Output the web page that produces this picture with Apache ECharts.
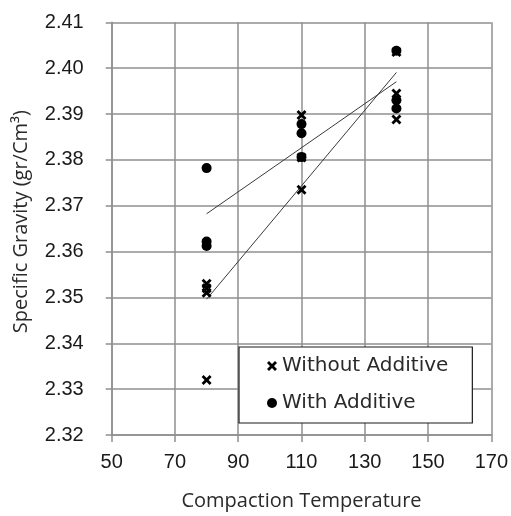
<!DOCTYPE html>
<html>
<head>
<meta charset="utf-8">
<script src="https://cdn.jsdelivr.net/npm/echarts@6/dist/echarts.min.js"></script>
<style>
html,body{margin:0;padding:0;background:#fff;}
#chart{width:511px;height:516px;}
</style>
</head>
<body>
<div id="chart"></div>
<script>
// Data
const seriesNames = ['Without Additive', 'With Additive'];
const withoutTemp = [80, 80, 80, 80, 110, 110, 110, 140, 140, 140];
const withoutSG   = [2.353, 2.352, 2.351, 2.332, 2.3898, 2.3805, 2.3735, 2.4035, 2.3945, 2.3888];
const withTemp    = [80, 80, 80, 110, 110, 110, 140, 140, 140];
const withSG      = [2.3782, 2.3622, 2.3612, 2.3878, 2.3858, 2.3806, 2.4038, 2.3930, 2.3912];
const xTicks = [50, 70, 90, 110, 130, 150, 170];
const yTicks = [2.32, 2.33, 2.34, 2.35, 2.36, 2.37, 2.38, 2.39, 2.40, 2.41];

function pairs(xs, ys) { return xs.map((x, i) => [x, ys[i]]); }
function fit(xs, ys) {
  const n = xs.length;
  const mx = xs.reduce((a, b) => a + b, 0) / n;
  const my = ys.reduce((a, b) => a + b, 0) / n;
  let sxy = 0, sxx = 0;
  for (let i = 0; i < n; i++) { sxy += (xs[i] - mx) * (ys[i] - my); sxx += (xs[i] - mx) ** 2; }
  const b = sxy / sxx, a = my - b * mx;
  const x0 = Math.min(...xs), x1 = Math.max(...xs);
  return [[x0, a + b * x0], [x1, a + b * x1]];
}

const crossPath = 'path://M0,2L2,0L5,3L8,0L10,2L7,5L10,8L8,10L5,7L2,10L0,8L3,5Z';
const gridColor = '#8f8f8f';

const chart = echarts.init(document.getElementById('chart'), null, {renderer: 'canvas'});
chart.setOption({
  animation: false,
  backgroundColor: '#fff',
  grid: {left: 111.7, right: 19, top: 22.3, bottom: 78, containLabel: false},
  xAxis: {
    type: 'value', min: xTicks[0], max: xTicks[xTicks.length - 1], interval: 20,
    name: 'Compaction Temperature', nameLocation: 'middle', nameGap: 56,
    nameTextStyle: {fontFamily: 'Open Sans', fontSize: 20, color: '#2a2a2a'},
    axisLine: {show: true, lineStyle: {color: gridColor, width: 1.5}},
    axisTick: {show: true, inside: false, length: 7, lineStyle: {color: gridColor, width: 1.5}},
    axisLabel: {margin: 17, fontFamily: 'Liberation Sans', fontSize: 20, color: '#1a1a1a'},
    splitLine: {show: true, lineStyle: {color: gridColor, width: 1.5}}
  },
  yAxis: {
    type: 'value', min: yTicks[0], max: yTicks[yTicks.length - 1], interval: 0.01,
    name: 'Specific Gravity (gr/Cm³)', nameLocation: 'middle', nameGap: 80,
    nameTextStyle: {fontFamily: 'Open Sans', fontSize: 20, color: '#2a2a2a', padding: [0, 0, 0, 14]},
    axisLine: {show: true, lineStyle: {color: gridColor, width: 1.5}},
    axisTick: {show: true, inside: false, length: 6, lineStyle: {color: gridColor, width: 1.5}},
    axisLabel: {margin: 28, fontFamily: 'Liberation Sans', fontSize: 20, color: '#1a1a1a',
      formatter: v => v.toFixed(2)},
    splitLine: {show: true, lineStyle: {color: gridColor, width: 1.5}}
  },
  legend: {
    data: seriesNames,
    orient: 'vertical', left: 239, top: 347,
    padding: [8, 24, 9, 28], itemGap: 15,
    itemWidth: 10, itemHeight: 10,
    backgroundColor: '#fff', borderColor: '#1a1a1a', borderWidth: 1.2,
    textStyle: {fontFamily: 'DejaVu Sans', fontSize: 20, color: '#2a2a2a', lineHeight: 22},
    selectedMode: false
  },
  series: [
    {type: 'line', data: fit(withoutTemp, withoutSG), symbol: 'none', silent: true,
     lineStyle: {color: '#3a3a3a', width: 1}, z: 1},
    {type: 'line', data: fit(withTemp, withSG), symbol: 'none', silent: true,
     lineStyle: {color: '#3a3a3a', width: 1}, z: 1},
    {name: seriesNames[0], type: 'scatter', data: pairs(withoutTemp, withoutSG),
     symbol: crossPath, symbolSize: 10, itemStyle: {color: '#000', opacity: 1}, z: 3},
    {name: seriesNames[1], type: 'scatter', data: pairs(withTemp, withSG),
     symbol: 'circle', symbolSize: 10, itemStyle: {color: '#000', opacity: 1}, z: 2}
  ]
});
</script>
</body>
</html>
